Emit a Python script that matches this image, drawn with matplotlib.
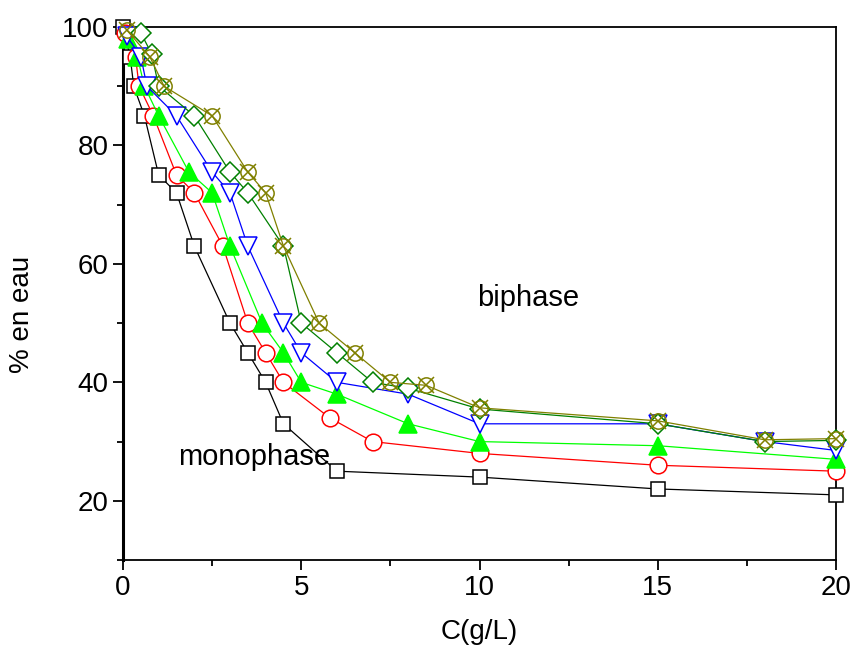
import matplotlib
matplotlib.use('Agg')
import matplotlib.pyplot as plt
from matplotlib.ticker import MultipleLocator

plt.rcParams['font.family'] = ['Liberation Sans', 'DejaVu Sans']

# concentration C (g/L) and % water, one pair of lists per series
c_black = [0, 0.2, 0.3, 0.6, 1.0, 1.5, 2.0, 3.0, 3.5, 4.0, 4.5, 6.0, 10, 15, 20]
w_black = [100, 95, 90, 85, 75, 72, 63, 50, 45, 40, 33, 25, 24, 22, 21]

c_red = [0.05, 0.35, 0.45, 0.85, 1.5, 2.0, 2.8, 3.5, 4.0, 4.5, 5.8, 7.0, 10, 15, 20]
w_red = [99, 95, 90, 85, 75, 72, 63, 50, 45, 40, 34, 30, 28, 26, 25]

c_green = [0.15, 0.4, 0.6, 1.0, 1.85, 2.5, 3.0, 3.9, 4.5, 5.0, 6.0, 8.0, 10, 15, 20]
w_green = [98, 95, 90, 85, 75.5, 72, 63, 50, 45, 40, 38, 33, 30, 29.3, 27]

c_blue = [0.1, 0.5, 0.67, 1.5, 2.5, 3.0, 3.5, 4.5, 5.0, 6.0, 8.0, 10, 15, 18, 20]
w_blue = [98.5, 95, 90, 85, 75.5, 72, 63, 50, 45, 40, 38, 33, 33, 30, 28.5]

c_dia = [0.5, 0.8, 1.0, 2.0, 3.0, 3.5, 4.5, 5.0, 6.0, 7.0, 8.0, 10, 15, 18, 20]
w_dia = [99, 95.5, 90, 85, 75.5, 72, 63, 50, 45, 40, 39, 35.5, 33, 30, 30.2]

c_olive = [0.1, 0.75, 1.15, 2.5, 3.5, 4.0, 4.5, 5.5, 6.5, 7.5, 8.5, 10, 15, 18, 20]
w_olive = [99.5, 95, 90, 85, 75.5, 72, 63, 50, 45, 40, 39.5, 35.7, 33.5, 30.3, 30.5]

fig = plt.figure(figsize=(8.55, 6.55), dpi=100)
ax = fig.add_axes([0.1439, 0.145, 0.8339, 0.8138])

lw = 0.9
mew = 1.1

ax.plot(c_black, w_black, '-', color='black', lw=lw, marker='s', ms=10.5,
        mfc='white', mec='black', mew=mew, clip_on=False, zorder=3)
ax.plot(c_red, w_red, '-', color='red', lw=lw, marker='o', ms=12,
        mfc='white', mec='red', mew=mew, clip_on=False, zorder=4)
ax.plot(c_green, w_green, '-', color='#00ff00', lw=lw, marker='^', ms=13.5,
        mfc='#00ff00', mec='#00ff00', mew=mew, clip_on=False, zorder=5)
ax.plot(c_blue, w_blue, '-', color='blue', lw=lw, marker='v', ms=13.5,
        mfc='white', mec='blue', mew=mew, clip_on=False, zorder=6)
ax.plot(c_dia, w_dia, '-', color='#008000', lw=lw, marker='D', ms=10,
        mfc='white', mec='#008000', mew=mew, clip_on=False, zorder=7)
ax.plot(c_olive, w_olive, '-', color='#808000', lw=lw, marker='o', ms=11,
        mfc='none', mec='#808000', mew=mew, clip_on=False, zorder=8)
ax.plot(c_olive, w_olive, 'none', marker='x', ms=12, mec='#808000', mew=mew,
        clip_on=False, zorder=8)

ax.text(11.36, 54.3, 'biphase', fontsize=21, ha='center', va='center', zorder=10)
ax.text(3.67, 27.4, 'monophase', fontsize=21, ha='center', va='center', zorder=10)

ax.set_xlim(0, 20)
ax.set_ylim(10, 100)
ax.xaxis.set_major_locator(MultipleLocator(5))
ax.xaxis.set_minor_locator(MultipleLocator(2.5))
ax.yaxis.set_major_locator(MultipleLocator(20))
ax.yaxis.set_minor_locator(MultipleLocator(10))
ax.tick_params(which='both', direction='out', labelsize=20, width=1.3, top=False, right=False)
ax.tick_params(which='major', length=7)
ax.tick_params(which='minor', length=4)

ax.spines['left'].set_linewidth(2.2)
for s in ['top', 'right', 'bottom']:
    ax.spines[s].set_linewidth(1.3)

ax.set_xlabel('C(g/L)', fontsize=20)
ax.set_ylabel('% en eau', fontsize=20)
ax.xaxis.set_label_coords(0.5, -0.11)
ax.yaxis.set_label_coords(-0.123, 0.46)

fig.savefig('out.png', dpi=100)
